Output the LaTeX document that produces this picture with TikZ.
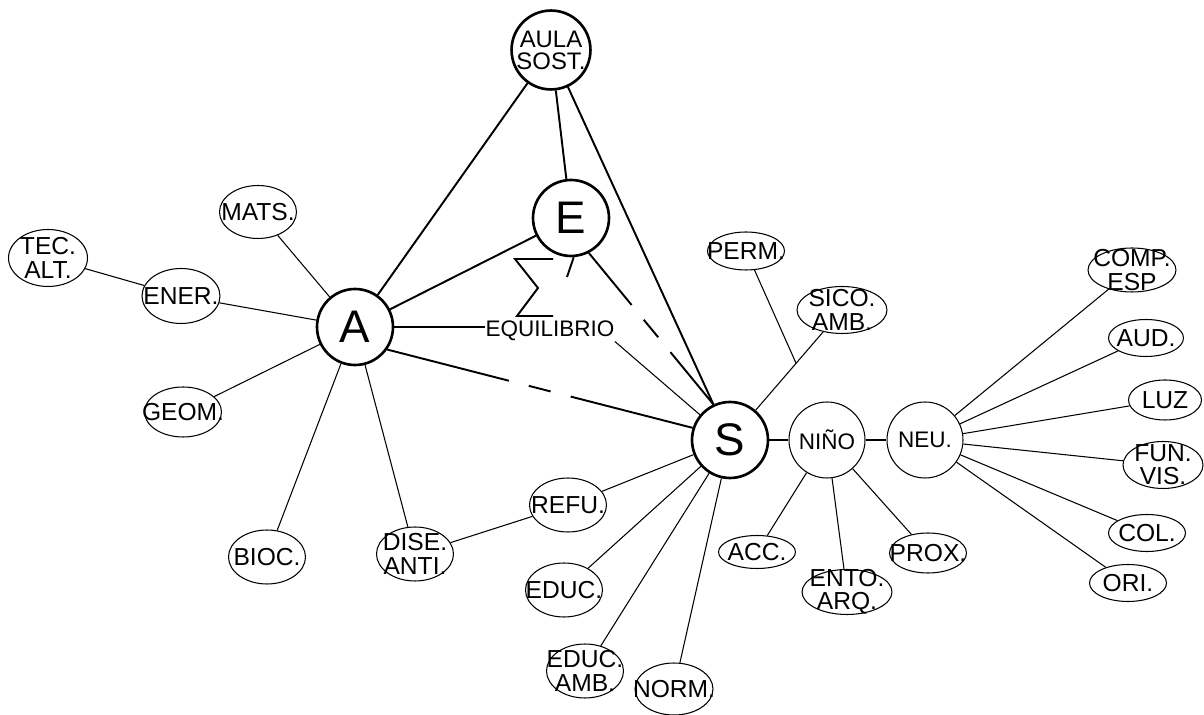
\documentclass[tikz,border=0pt]{standalone}
\usepackage{fontspec}
\setmainfont{Liberation Sans}
\usetikzlibrary{shapes.geometric}
\usetikzlibrary{calc}

\begin{document}
\begin{tikzpicture}[x=0.02cm, y=-0.02cm, line width=0.6pt,
		every node/.style={font=\fontsize{12.8}{13}\selectfont, inner sep=0pt, align=center},
		every label/.style={font=\fontsize{14}{13.2}\selectfont},
		hub/.style={circle, draw, line width=1.5pt, minimum size=1.52cm, font=\fontsize{26}{28}\selectfont},
		kid/.style={circle, draw, line width=0.6pt, minimum size=1.52cm},
		leaf/.style={ellipse, draw, line width=0.6pt, minimum width=1.54cm, minimum height=1.08cm},
		flat/.style={ellipse, draw, line width=0.6pt, minimum width=1.54cm, minimum height=0.76cm},
		strong/.style={line width=1.1pt}]
	\useasboundingbox (0,0) rectangle (1204,715);
	% Nodes
	\node[hub] (A) at (355,327) {A};
	\node[hub] (E) at (571,218) {E};
	\node[hub] (S) at (730,440) {S};
	\node[hub, minimum size=1.48cm, font=\fontsize{13.6}{12.5}\selectfont] (aula) at (551,50) {AULA\\SOST.};
	\node[kid] (ninio) at (827,440) {NIÑO};
	\node[kid] (neu) at (925,440) {NEU.};
	\node (equil) at (550,331) {EQUILIBRIO};
	% left leaves
	\node[leaf, minimum height=1.06cm, label=center:{MATS.}] (mats) at (258,212) {};
	\node[leaf, minimum width=1.58cm, minimum height=1.14cm, label=center:{TEC.\\ALT.}] (tec) at (48,258) {};
	\node[leaf, minimum width=1.56cm, minimum height=1.1cm, label=center:{ENER.}] (ener) at (181,296) {};
	\node[leaf, minimum height=1.0cm, label=center:{GEOM.}] (geom) at (183,412) {};
	\node[leaf, label=center:{BIOC.}] (bioc) at (267,557) {};
	\node[leaf, label=center:{DISE.\\ANTI.}] (dise) at (415,554) {};
	\node[leaf, label=center:{REFU.}] (refu) at (568,505) {};
	\node[leaf, label=center:{EDUC.}] (educ) at (564,590) {};
	\node[leaf, label=center:{EDUC.\\AMB.}] (educamb) at (585,671) {};
	\node[leaf, minimum width=1.56cm, minimum height=1.04cm, label=center:{NORM.}] (norm) at (674,689) {};
	% right leaves
	\node[flat, label=center:{PERM.}] (perm) at (746,251) {};
	\node[flat, minimum width=1.8cm, minimum height=0.94cm, label=center:{SICO.\\AMB.}] (sico) at (842,310) {};
	\node[flat, minimum height=0.66cm, label=center:{ACC.}] (acc) at (757,552) {};
	\node[flat, minimum width=1.8cm, minimum height=0.9cm, label=center:{ENTO.\\ARQ.}] (ento) at (847,592) {};
	\node[flat, minimum height=0.8cm, label=center:{PROX.}] (prox) at (928,553) {};
	\node[flat, minimum width=1.76cm, minimum height=0.88cm, label=center:{COMP.\\ESP}] (comp) at (1132,270) {};
	\node[flat, minimum width=1.5cm, minimum height=0.74cm, label=center:{AUD.}] (aud) at (1146,338) {};
	\node[flat, minimum width=1.46cm, minimum height=0.8cm, label=center:{LUZ}] (luz) at (1165,400) {};
	\node[flat, minimum width=1.6cm, minimum height=0.94cm, label=center:{FUN.\\VIS.}] (fun) at (1163,465) {};
	\node[flat, minimum height=0.74cm, label=center:{COL.}] (col) at (1147,533) {};
	\node[flat, minimum height=0.74cm, label=center:{ORI.}] (ori) at (1128,583) {};
	\coordinate (eq1) at (435,327);
	\coordinate (tk) at (567,277);
	\coordinate (jn) at ($(S)!0.59!(sico)$);
	% Triangle edges
	\draw[strong] (aula) -- (A);
	\draw[strong] (aula) -- (E);
	\draw[strong] (aula) -- (S.115);
	\draw[strong] (E) -- (A);
	\draw[strong, dash pattern=on 38.3pt off 10.9pt on 12.9pt off 11pt on 200pt off 0pt] (E.-63) -- (S.115);
	\draw[strong, dash pattern=on 71.5pt off 11.7pt on 12.8pt off 11.8pt on 300pt off 0pt] (A.-35) -- (S.162);
	\draw (A) -- (eq1);
	\draw[strong] (eq1) -- (A -| equil.west);
	\draw (equil.south east) -- (S.140);
	\draw[strong] (E.-86) -- (tk);
	% Sigma
	\draw[strong] (553,259) -- (515,259) -- (538,288) -- (517,316) -- (553,316);
	% Edges of A
	\draw (A) -- (mats);
	\draw (A) -- (ener);
	\draw (ener) -- (tec);
	\draw (A) -- (geom);
	\draw (A) -- (bioc);
	\draw (A) -- (dise);
	\draw (dise) -- (refu);
	% Edges of S
	\draw (S) -- (refu);
	\draw (S) -- (educ);
	\draw (S) -- (educamb);
	\draw (S) -- (norm);
	\draw (S) -- (sico);
	\draw (perm) -- (jn);
	\draw (S) -- (ninio);
	\draw (ninio) -- (neu);
	\draw (ninio) -- (acc);
	\draw (ninio) -- (ento);
	\draw (ninio) -- (prox);
	% Edges of NEU.
	\foreach \n in {comp,aud,luz,fun,col,ori}
		\draw (neu) -- (\n);
\end{tikzpicture}
\end{document}
